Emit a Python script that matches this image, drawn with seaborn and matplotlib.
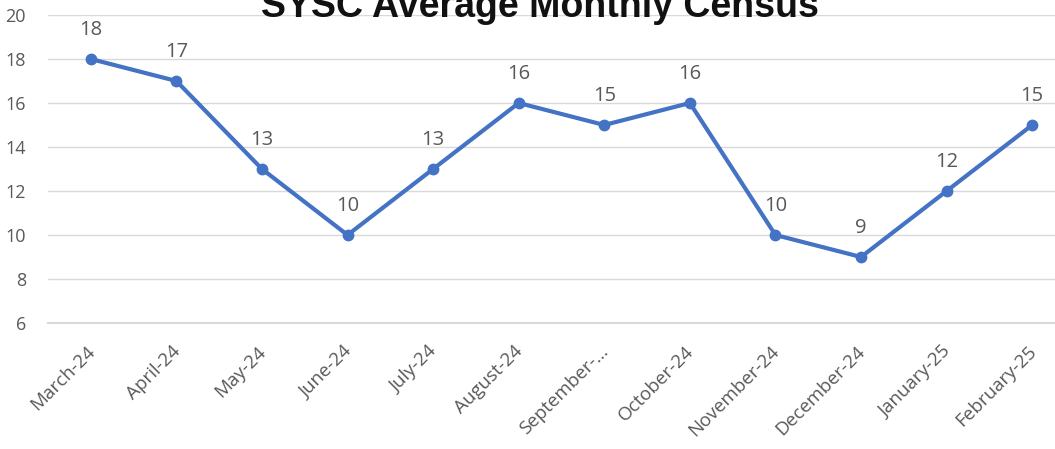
import pandas as pd
import seaborn as sns
import matplotlib.pyplot as plt
from matplotlib.transforms import ScaledTranslation

# Monthly census values
months = ["March-24", "April-24", "May-24", "June-24", "July-24", "August-24",
          "September-...", "October-24", "November-24", "December-24",
          "January-25", "February-25"]
census = [18, 17, 13, 10, 13, 16, 15, 16, 10, 9, 12, 15]

df = pd.DataFrame({"month": months, "census": census})

sns.set_style("white")
plt.rcParams["font.family"] = ["Open Sans", "DejaVu Sans"]

fig = plt.figure(figsize=(10.55, 4.49), dpi=100)
ax = fig.add_axes([48 / 1055, 1 - 323 / 449, 1027 / 1055, 308 / 449])

blue = "#4472C4"
sns.lineplot(data=df, x="month", y="census", sort=False, ax=ax, color=blue,
             linewidth=3, marker="o", markersize=8.5, markeredgewidth=0)

# data labels above each point
for i, v in enumerate(census):
    ax.annotate(str(v), (i, v), xytext=(0, 21), textcoords="offset points",
                ha="center", va="center", fontsize=14.5, color="#595959")

ax.set_xlim(-0.5, len(months) - 0.5)
ax.set_ylim(6, 20)
ax.set_yticks(range(6, 21, 2))
ax.set_xlabel("")
ax.set_ylabel("")

ax.grid(axis="y", color="#d9d9d9", linewidth=1)
ax.set_axisbelow(True)
for s in ["top", "right", "left"]:
    ax.spines[s].set_visible(False)
ax.spines["bottom"].set_color("#d9d9d9")
ax.spines["bottom"].set_linewidth(1.5)

# tick marks sit between categories
ax.set_xticks([i - 0.5 for i in range(len(months) + 1)], minor=True)
ax.tick_params(axis="x", which="minor", length=6, color="#d9d9d9", width=1.5)
ax.tick_params(axis="x", which="major", length=0, pad=14)
ax.tick_params(axis="y", length=0, pad=16, labelsize=13, labelcolor="#595959")
ax.set_xticks(range(len(months)))
ax.set_xticklabels(months, rotation=45, ha="right", rotation_mode="anchor",
                   fontsize=13.5, color="#595959")
shift = ScaledTranslation(-5 / 100, 0, fig.dpi_scale_trans)
for lbl in ax.get_xticklabels():
    lbl.set_transform(lbl.get_transform() + shift)

fig.text(0.512, 1 - 17 / 449, "SYSC Average Monthly Census", ha="center",
         va="baseline", fontsize=27, fontweight="bold", color="#111111",
         family=["Liberation Sans", "DejaVu Sans"])

fig.savefig("out.png", dpi=100)
